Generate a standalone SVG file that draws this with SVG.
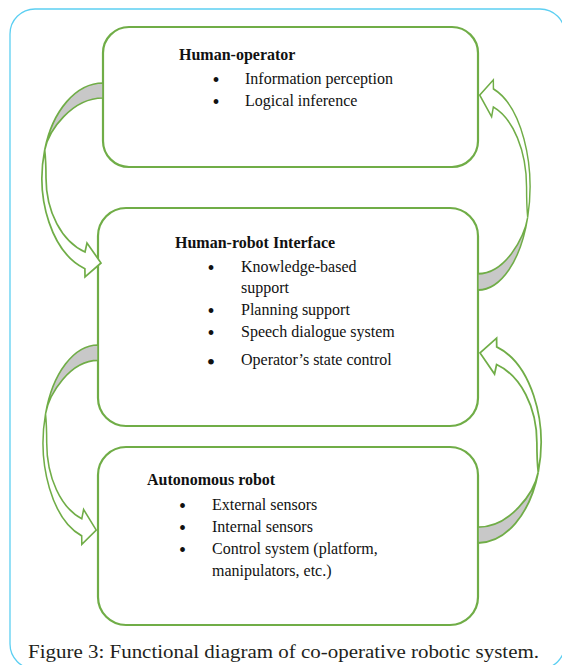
<svg xmlns="http://www.w3.org/2000/svg" width="562" height="665" viewBox="0 0 562 665">
<style>
.frame{fill:none;stroke:#5ccff2;stroke-width:1.3}
.box{fill:#fff;stroke:#70ad47;stroke-width:2.2}
.front{fill:#fff;stroke:#70ad47;stroke-width:1.7;stroke-linejoin:miter}
.back{fill:#c8c8c8;stroke:#70ad47;stroke-width:1.7}
text{font-family:"Liberation Serif","Times New Roman",serif;font-size:16px;fill:#111}
.title{font-weight:bold}
.bul{font-size:20px}
.bul-lg{font-size:24px}
.cap{font-size:19px;fill:#231f20}
</style>
<defs>
<path id="arrowBack" d="M0,0 C-26.7,0 -50.5,27.3 -58.3,67 C-54.4,47.4 -31,15 0,15 Z"/>
<path id="arrowFront" d="M-58.3,67 C-68.2,117.2 -50.2,170.2 -18.1,185.7 L-18,194 L-2,180 L-16,160 L-18,169 C-41.3,158.4 -57,128.6 -57,95 C-57,82 -57.5,74 -58.3,67 Z"/>
</defs>
<rect class="frame" x="10" y="9" width="555" height="660" rx="25" ry="25"/>
<g id="human-operator">
<rect class="box" x="103" y="27" width="375" height="140" rx="26" ry="26"/>
<text class="title" x="179" y="60">Human-operator</text>
<text class="bul" x="212.5" y="87">•</text><text x="245" y="84">Information perception</text>
<text class="bul" x="212.5" y="109">•</text><text x="245" y="106">Logical inference</text>
</g>
<g id="human-robot-interface">
<rect class="box" x="98" y="208" width="380" height="218" rx="28" ry="28"/>
<text class="title" x="175" y="248">Human-robot Interface</text>
<text class="bul" x="207.5" y="275">•</text><text x="241" y="272">Knowledge-based</text>
<text x="241" y="293">support</text>
<text class="bul" x="207.5" y="318">•</text><text x="241" y="315">Planning support</text>
<text class="bul" x="207.5" y="340">•</text><text x="241" y="337">Speech dialogue system</text>
<text class="bul-lg" x="206.8" y="370">•</text><text x="241" y="365">Operator’s state control</text>
</g>
<g id="autonomous-robot">
<rect class="box" x="98" y="447" width="380" height="178" rx="28" ry="28"/>
<text class="title" x="147" y="485">Autonomous robot</text>
<text class="bul" x="179" y="513">•</text><text x="212" y="510">External sensors</text>
<text class="bul" x="179" y="535">•</text><text x="212" y="532">Internal sensors</text>
<text class="bul" x="179" y="557">•</text><text x="212" y="554">Control system (platform,</text>
<text x="212" y="576">manipulators, etc.)</text>
</g>
<g id="connectors">
<g transform="translate(103,83)"><use href="#arrowFront" class="front"/><use href="#arrowBack" class="back"/></g>
<g transform="translate(478,290) scale(-0.852,-1.083)"><use href="#arrowFront" class="front"/><use href="#arrowBack" class="back"/></g>
<g transform="translate(98,345) scale(0.9,1.028)"><use href="#arrowFront" class="front"/><use href="#arrowBack" class="back"/></g>
<g transform="translate(478,543) scale(-1.033,-1.056)"><use href="#arrowFront" class="front"/><use href="#arrowBack" class="back"/></g>
</g>
<text class="cap" x="28" y="658" textLength="511" lengthAdjust="spacingAndGlyphs">Figure 3: Functional diagram of co-operative robotic system.</text>
</svg>
